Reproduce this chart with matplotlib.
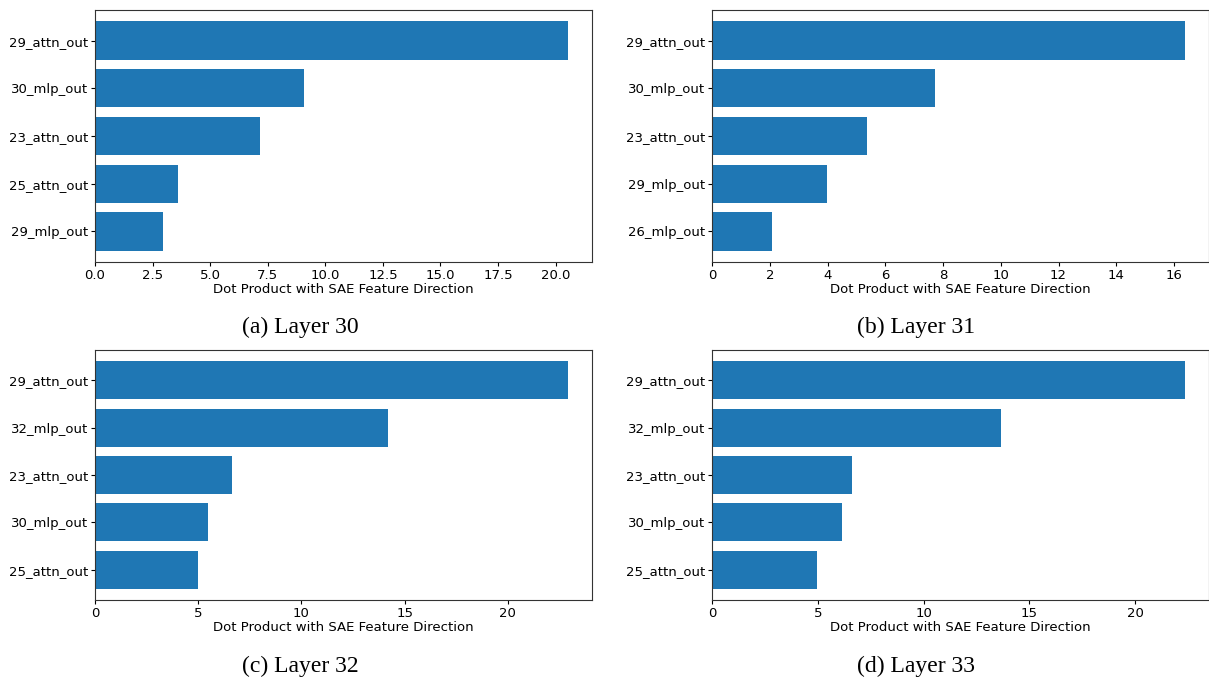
import matplotlib
matplotlib.use("Agg")
import matplotlib.pyplot as plt

# 各层的组件名称（自上而下）与点积数值
labels_l30 = ["29_attn_out", "30_mlp_out", "23_attn_out", "25_attn_out", "29_mlp_out"]
values_l30 = [20.55, 9.09, 7.16, 3.62, 2.97]

labels_l31 = ["29_attn_out", "30_mlp_out", "23_attn_out", "29_mlp_out", "26_mlp_out"]
values_l31 = [16.39, 7.71, 5.36, 3.97, 2.07]

labels_l32 = ["29_attn_out", "32_mlp_out", "23_attn_out", "30_mlp_out", "25_attn_out"]
values_l32 = [22.93, 14.17, 6.63, 5.47, 4.97]

labels_l33 = ["29_attn_out", "32_mlp_out", "23_attn_out", "30_mlp_out", "25_attn_out"]
values_l33 = [22.37, 13.65, 6.61, 6.13, 4.96]

captions = ["(a) Layer 30", "(b) Layer 31", "(c) Layer 32", "(d) Layer 33"]

panels = [
    (labels_l30, values_l30),
    (labels_l31, values_l31),
    (labels_l32, values_l32),
    (labels_l33, values_l33),
]

W, H = 1209, 680
fig = plt.figure(figsize=(W / 100, H / 100), dpi=100)

# 轴的像素位置 (left, top, right, bottom)
boxes = [
    (95, 10, 592, 262),
    (712, 10, 1209, 262),
    (95, 350, 592, 600),
    (712, 350, 1209, 600),
]
# 子图标题中心位置（像素）
caption_xy = [(300, 327), (916, 327), (300, 666), (916, 666)]

for (labels, values), box, cap, (cx, cy) in zip(panels, boxes, captions, caption_xy):
    l, t, r, b = box
    ax = fig.add_axes([l / W, 1 - b / H, (r - l) / W, (b - t) / H])
    ax.barh(labels[::-1], values[::-1], color="#1f77b4", height=0.8)
    ax.set_xlabel("Dot Product with SAE Feature Direction", fontsize=9.5, labelpad=1)
    ax.tick_params(labelsize=9.5, length=3, pad=2)
    for s in ax.spines.values():
        s.set_color("#333333")
    fig.text(cx / W, 1 - cy / H, cap, ha="center", va="center",
             fontsize=17, family="Liberation Serif")

fig.savefig("out.png", dpi=100)
